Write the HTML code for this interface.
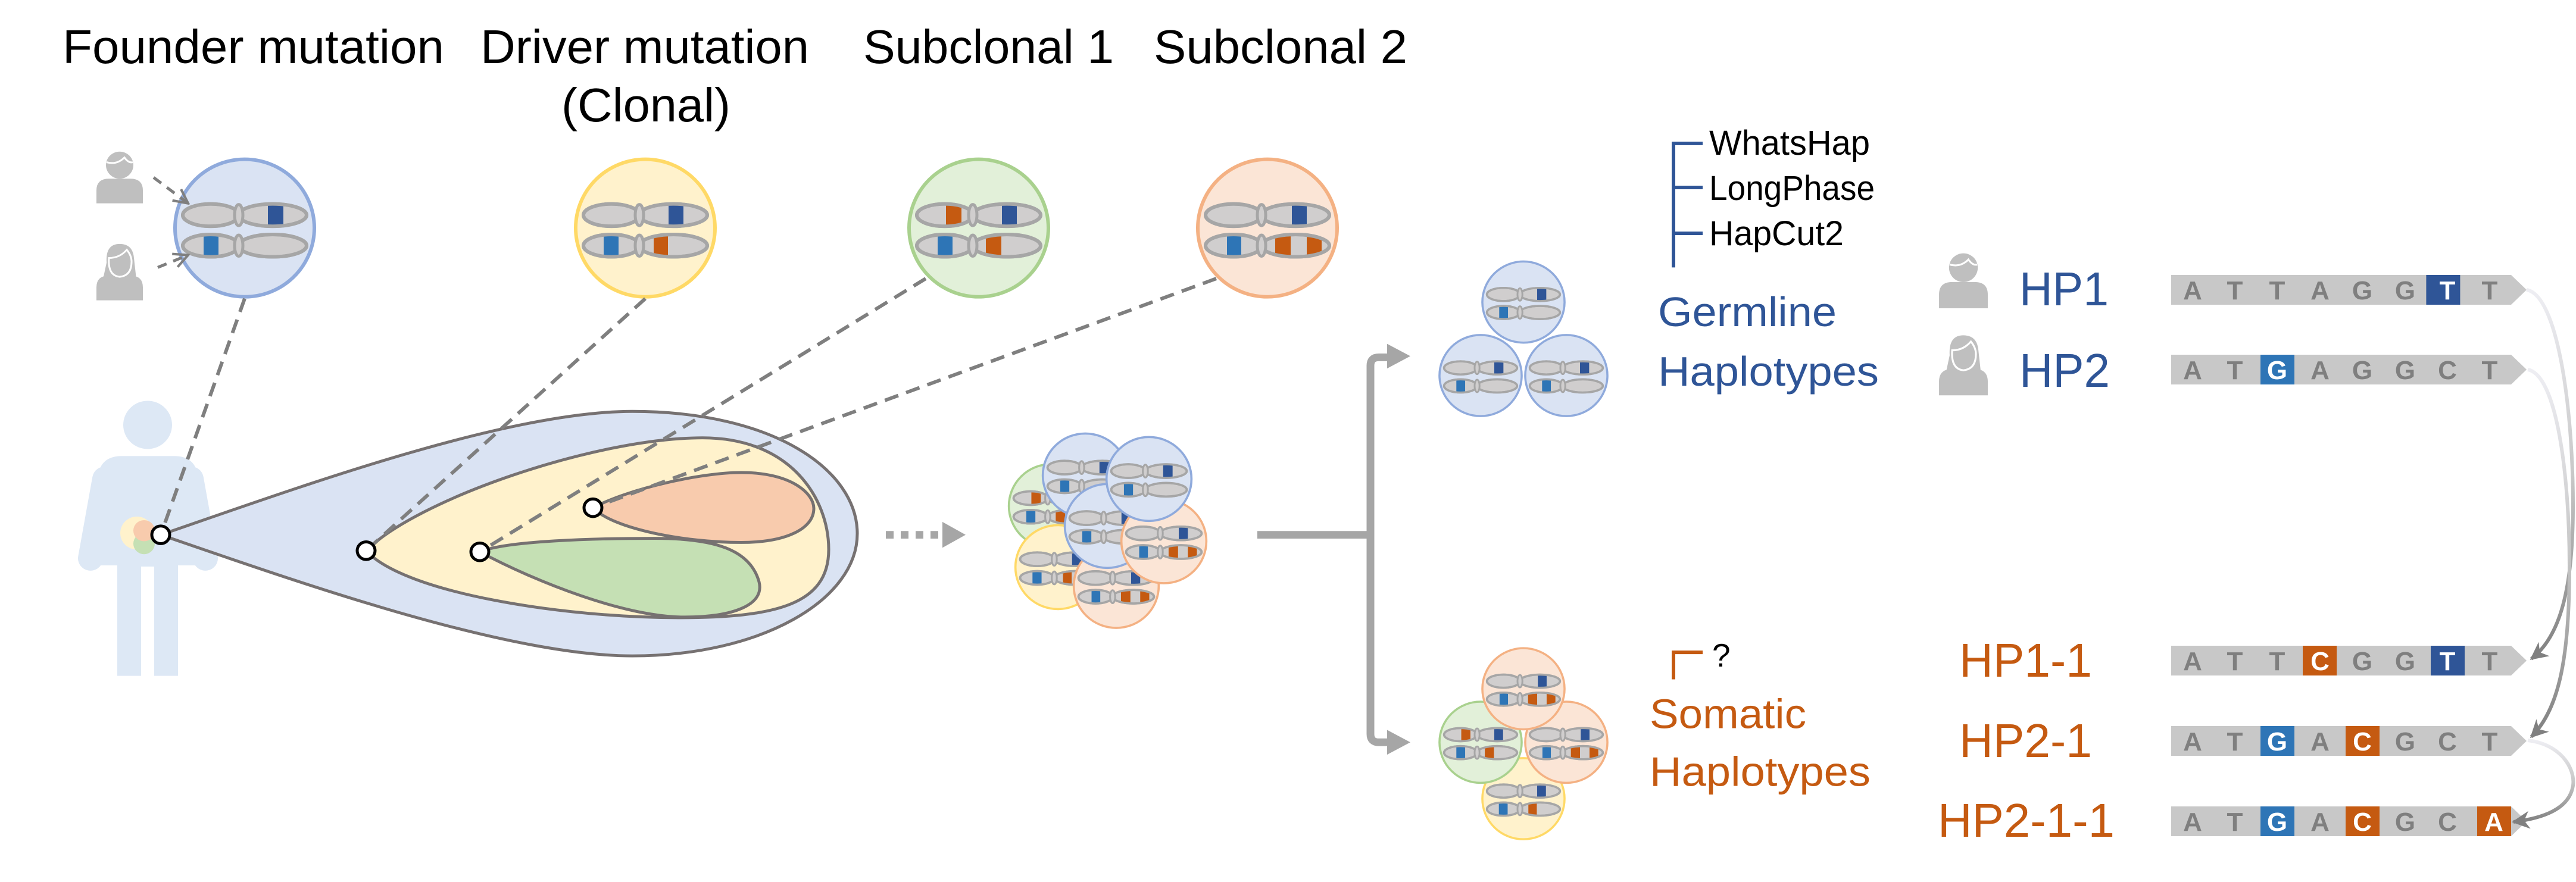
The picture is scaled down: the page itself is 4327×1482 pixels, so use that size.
<!DOCTYPE html>
<html><head><meta charset="utf-8"><style>html,body{margin:0;padding:0;background:#fff}svg{display:block}</style></head>
<body>
<svg xmlns="http://www.w3.org/2000/svg" xmlns:xlink="http://www.w3.org/1999/xlink" width="4327" height="1482" viewBox="0 0 4327 1482">
<defs>
  <clipPath id="r1"><ellipse cx="-57" cy="-22" rx="47" ry="19"/><ellipse cx="47" cy="-22" rx="57" ry="19"/></clipPath>
  <clipPath id="r2"><ellipse cx="-57" cy="30" rx="47" ry="19"/><ellipse cx="47" cy="30" rx="57" ry="19"/></clipPath>
  <g id="chromo">
    <g fill="#d0cece" stroke="#a6a6a6" stroke-width="6">
      <ellipse cx="-57" cy="-22" rx="47" ry="19"/><ellipse cx="47" cy="-22" rx="57" ry="19"/>
      <ellipse cx="-57" cy="30" rx="47" ry="19"/><ellipse cx="47" cy="30" rx="57" ry="19"/>
    </g>
  </g>
  <g id="outl" fill="none" stroke="#a6a6a6" stroke-width="6"><ellipse cx="-57" cy="-22" rx="47" ry="19"/><ellipse cx="47" cy="-22" rx="57" ry="19"/><ellipse cx="-57" cy="30" rx="47" ry="19"/><ellipse cx="47" cy="30" rx="57" ry="19"/></g>
  <g id="ridges" fill="#d0cece" stroke="#a6a6a6" stroke-width="5">
    <ellipse cx="-10" cy="-22" rx="7" ry="18"/><ellipse cx="-10" cy="30" rx="7" ry="18"/>
  </g>
  <g id="cB">
    <use xlink:href="#chromo"/>
    <rect x="39" y="-44" width="26" height="44" fill="#2f5597" clip-path="url(#r1)"/>
    <rect x="-69" y="8" width="25" height="44" fill="#2e75b6" clip-path="url(#r2)"/>
    <use xlink:href="#outl"/><use xlink:href="#ridges"/>
  </g>
  <g id="cY">
    <use xlink:href="#chromo"/>
    <rect x="39" y="-44" width="25" height="44" fill="#2f5597" clip-path="url(#r1)"/>
    <rect x="-70" y="8" width="25" height="44" fill="#2e75b6" clip-path="url(#r2)"/>
    <rect x="14" y="8" width="24" height="44" fill="#c55a11" clip-path="url(#r2)"/>
    <use xlink:href="#outl"/><use xlink:href="#ridges"/>
  </g>
  <g id="cG">
    <use xlink:href="#chromo"/>
    <rect x="-55" y="-44" width="26" height="44" fill="#c55a11" clip-path="url(#r1)"/>
    <rect x="39" y="-44" width="25" height="44" fill="#2f5597" clip-path="url(#r1)"/>
    <rect x="-69" y="8" width="25" height="44" fill="#2e75b6" clip-path="url(#r2)"/>
    <rect x="12" y="8" width="26" height="44" fill="#c55a11" clip-path="url(#r2)"/>
    <use xlink:href="#outl"/><use xlink:href="#ridges"/>
  </g>
  <g id="cO">
    <use xlink:href="#chromo"/>
    <rect x="41" y="-44" width="25" height="44" fill="#2f5597" clip-path="url(#r1)"/>
    <rect x="-68" y="8" width="24" height="44" fill="#2e75b6" clip-path="url(#r2)"/>
    <rect x="13" y="8" width="26" height="44" fill="#c55a11" clip-path="url(#r2)"/>
    <rect x="66" y="8" width="25" height="44" fill="#c55a11" clip-path="url(#r2)"/>
    <use xlink:href="#outl"/><use xlink:href="#ridges"/>
  </g>
  <g id="circB"><circle r="117" fill="#dae3f3" stroke="#8faadc" stroke-width="6"/><use xlink:href="#cB"/></g>
  <g id="circY"><circle r="117" fill="#fff2cc" stroke="#ffd966" stroke-width="6"/><use xlink:href="#cY"/></g>
  <g id="circG"><circle r="117" fill="#e2f0d9" stroke="#a9d18e" stroke-width="6"/><use xlink:href="#cG"/></g>
  <g id="circO"><circle r="117" fill="#fbe5d6" stroke="#f4b183" stroke-width="6"/><use xlink:href="#cO"/></g>
  <g id="male" fill="#bfbfbf">
    <circle cx="0" cy="-25" r="23"/>
    <path d="M-39,40 V18 Q-39,-2 -18,-2 H18 Q39,-2 39,18 V40 Z"/>
    <path d="M-22,-30 Q-5,-25 8,-38 Q15,-28 22,-30" fill="none" stroke="#fff" stroke-width="3"/>
  </g>
  <g id="female" fill="#bfbfbf">
    <path d="M-22,-20 Q-24,-52 0,-52 Q22,-52 24,-28 L28,8 L-28,8 Z"/>
    <path d="M-39,44 V22 Q-39,2 -18,2 H18 Q39,2 39,22 V44 Z"/>
    <path d="M-18,-28 Q0,-28 12,-42 Q20,-32 20,-22 Q20,2 0,4 Q-20,2 -18,-28 Z" fill="#bfbfbf" stroke="#fff" stroke-width="3"/>
  </g>
  <marker id="ah" viewBox="0 0 10 10" refX="9" refY="5" markerWidth="5" markerHeight="5" orient="auto" markerUnits="strokeWidth">
    <path d="M0,0 L10,5 L0,10 L3,5 Z" fill="#808080"/>
  </marker>
  <marker id="oa" viewBox="0 0 10 10" refX="9" refY="5" markerWidth="6" markerHeight="6" orient="auto" markerUnits="strokeWidth">
    <path d="M1,1 L9,5 L1,9" fill="none" stroke="#7f7f7f" stroke-width="1.4"/>
  </marker>
  <linearGradient id="gr1" x1="0" y1="0" x2="0" y2="1"><stop offset="0" stop-color="#eeeef3"/><stop offset="0.5" stop-color="#c8c8c8"/><stop offset="1" stop-color="#808080"/></linearGradient>
</defs>

<g font-family="Liberation Sans, Arial, sans-serif" font-size="80" fill="#000">
  <text x="105" y="106" textLength="641" lengthAdjust="spacingAndGlyphs">Founder mutation</text>
  <text x="807" y="106" textLength="552" lengthAdjust="spacingAndGlyphs">Driver mutation</text>
  <text x="943" y="204" textLength="284" lengthAdjust="spacingAndGlyphs">(Clonal)</text>
  <text x="1450" y="106" textLength="421" lengthAdjust="spacingAndGlyphs">Subclonal 1</text>
  <text x="1938" y="106" textLength="426" lengthAdjust="spacingAndGlyphs">Subclonal 2</text>
</g>

<g transform="scale(1,0.9875)">
<use xlink:href="#circB" x="411" y="388"/>
<use xlink:href="#circY" x="1084" y="388"/>
<use xlink:href="#circG" x="1644" y="388"/>
<use xlink:href="#circO" x="2129" y="388"/>

<use xlink:href="#male" x="201" y="306"/>
<use xlink:href="#female" x="201" y="467"/>
<g stroke="#7f7f7f" stroke-width="5" stroke-dasharray="16 12" fill="none">
  <line x1="258" y1="302" x2="316" y2="346" marker-end="url(#oa)"/>
  <line x1="265" y1="455" x2="316" y2="434" marker-end="url(#oa)"/>
</g>

<!-- person body -->
<g fill="#dde8f5">
  <circle cx="248" cy="723" r="41"/>
  <path d="M164,820 Q164,776 205,776 H292 Q333,776 333,820 V962 H164 Z"/>
  <line x1="176" y1="815" x2="152" y2="950" stroke="#dde8f5" stroke-width="42" stroke-linecap="round"/>
  <line x1="321" y1="815" x2="345" y2="950" stroke="#dde8f5" stroke-width="42" stroke-linecap="round"/>
  <rect x="197" y="940" width="40" height="210"/>
  <rect x="259" y="940" width="40" height="210"/>
  <rect x="197" y="940" width="102" height="24"/>
</g>
<circle cx="230" cy="907" r="28" fill="#fff2cc"/>
<circle cx="242" cy="925" r="18" fill="#c5e0b4"/>
<circle cx="242" cy="903" r="18" fill="#f8cbad"/>

<g stroke="#767171" stroke-width="5">
  <path d="M270,910 C500,830 850,700 1062,700 C1300,700 1440,800 1440,908 C1440,1020 1280,1116 1062,1116 C850,1116 500,990 270,910 Z" fill="#dae3f3"/>
  <path d="M615,937 C700,850 1000,745 1180,745 C1330,745 1392,850 1392,935 C1392,1030 1300,1051 1140,1051 C950,1051 680,1010 615,937 Z" fill="#fff2cc"/>
  <path d="M996,864 C1060,830 1180,804 1245,804 C1330,804 1367,840 1367,865 C1367,900 1320,923 1245,923 C1150,923 1030,900 996,864 Z" fill="#f8cbad"/>
  <path d="M806,939 C850,920 1000,916 1100,916 C1200,916 1260,935 1275,990 C1285,1030 1230,1050 1150,1050 C1050,1050 900,990 806,939 Z" fill="#c5e0b4"/>
</g>
<g stroke="#7f7f7f" stroke-width="6" stroke-dasharray="24 14" fill="none">
  <line x1="411" y1="508" x2="270" y2="910"/>
  <line x1="1084" y1="508" x2="615" y2="937"/>
  <line x1="1555" y1="474" x2="806" y2="939"/>
  <line x1="2043" y1="474" x2="996" y2="864"/>
</g>
<g fill="#fff" stroke="#000" stroke-width="5">
  <circle cx="270" cy="910" r="15"/><circle cx="615" cy="937" r="15"/>
  <circle cx="806" cy="939" r="15"/><circle cx="996" cy="864" r="15"/>
</g>

<line x1="1488" y1="910" x2="1590" y2="910" stroke="#a6a6a6" stroke-width="13" stroke-dasharray="13 12"/>
<polygon points="1583,888 1622,910 1583,932" fill="#a6a6a6"/>

<g>
  <g transform="translate(1766,861) scale(0.61)"><use xlink:href="#circG"/></g>
  <g transform="translate(1777,965) scale(0.61)"><use xlink:href="#circY"/></g>
  <g transform="translate(1823,809) scale(0.61)"><use xlink:href="#circB"/></g>
  <g transform="translate(1875,997) scale(0.61)"><use xlink:href="#circO"/></g>
  <g transform="translate(1860,895) scale(0.61)"><use xlink:href="#circB"/></g>
  <g transform="translate(1955,921) scale(0.61)"><use xlink:href="#circO"/></g>
  <g transform="translate(1930,815) scale(0.61)"><use xlink:href="#circB"/></g>
</g>

<g fill="none" stroke="#a6a6a6" stroke-width="13">
  <path d="M2112,910 H2302"/>
  <path d="M2338,608 H2316 Q2302,608 2302,622 V1249 Q2302,1263 2316,1263 H2338"/>
</g>
<polygon points="2330,585 2369,606 2330,627" fill="#a6a6a6"/>
<polygon points="2330,1242 2369,1263 2330,1284" fill="#a6a6a6"/>

<g transform="translate(2559,514) scale(0.59)"><use xlink:href="#circB"/></g>
<g transform="translate(2487,639) scale(0.59)"><use xlink:href="#circB"/></g>
<g transform="translate(2631,639) scale(0.59)"><use xlink:href="#circB"/></g>

<g transform="translate(2559,1359) scale(0.59)"><use xlink:href="#circY"/></g>
<g transform="translate(2487,1263) scale(0.59)"><use xlink:href="#circG"/></g>
<g transform="translate(2631,1263) scale(0.59)"><use xlink:href="#circO"/></g>
<g transform="translate(2559,1172) scale(0.59)"><use xlink:href="#circO"/></g>

<g stroke="#2f5597" stroke-width="6" fill="none">
  <path d="M2811,455 V244 H2860 M2811,319 H2860 M2811,397 H2860"/>
</g>
<g font-family="Liberation Sans, Arial, sans-serif" font-size="70" fill="#2f5597">
  <text x="2785" y="555" textLength="300" lengthAdjust="spacingAndGlyphs">Germline</text>
  <text x="2785" y="656" textLength="371" lengthAdjust="spacingAndGlyphs">Haplotypes</text>
</g>
<path d="M2811,1156 V1110 H2860" stroke="#c55a11" stroke-width="6" fill="none"/>
<text x="2876" y="1134" font-family="Liberation Sans, Arial, sans-serif" font-size="55" fill="#000">?</text>
<g font-family="Liberation Sans, Arial, sans-serif" font-size="70" fill="#c55a11">
  <text x="2771" y="1239" textLength="263" lengthAdjust="spacingAndGlyphs">Somatic</text>
  <text x="2771" y="1337" textLength="371" lengthAdjust="spacingAndGlyphs">Haplotypes</text>
</g>
</g>

<g font-family="Liberation Sans, Arial, sans-serif" font-size="58" fill="#000">
  <text x="2871" y="260" textLength="270" lengthAdjust="spacingAndGlyphs">WhatsHap</text>
  <text x="2871" y="336" textLength="278" lengthAdjust="spacingAndGlyphs">LongPhase</text>
  <text x="2871" y="412" textLength="226" lengthAdjust="spacingAndGlyphs">HapCut2</text>
</g>

<g transform="translate(3298,476) scale(1.05)"><use xlink:href="#male"/></g>
<g transform="translate(3298,618) scale(1.05)"><use xlink:href="#female"/></g>
<g font-family="Liberation Sans, Arial, sans-serif" font-size="80">
  <text x="3392" y="513" fill="#2f5597" textLength="150" lengthAdjust="spacingAndGlyphs">HP1</text>
  <text x="3392" y="650" fill="#2f5597" textLength="152" lengthAdjust="spacingAndGlyphs">HP2</text>
  <text x="3291" y="1137" fill="#c55a11" textLength="223" lengthAdjust="spacingAndGlyphs">HP1-1</text>
  <text x="3291" y="1272" fill="#c55a11" textLength="223" lengthAdjust="spacingAndGlyphs">HP2-1</text>
  <text x="3255" y="1406" fill="#c55a11" textLength="297" lengthAdjust="spacingAndGlyphs">HP2-1-1</text>
</g>

<g font-family="Liberation Sans, Arial, sans-serif" font-size="44" font-weight="bold" text-anchor="middle">
  <g transform="translate(3647,462)">
    <polygon points="0,0 571,0 597,25 571,50 0,50" fill="#c8c8c8"/>
    <rect x="428.4" y="0" width="57" height="50" fill="#2f5597"/>
    <g fill="#7f7f7f"><text x="36" y="41">A</text><text x="107" y="41">T</text><text x="178" y="41">T</text><text x="250" y="41">A</text><text x="321" y="41">G</text><text x="393" y="41">G</text><text x="464" y="41" fill="#fff">T</text><text x="535" y="41">T</text></g>
  </g>
  <g transform="translate(3647,596)">
    <polygon points="0,0 571,0 597,25 571,50 0,50" fill="#c8c8c8"/>
    <rect x="150" y="0" width="57" height="50" fill="#2e75b6"/>
    <g fill="#7f7f7f"><text x="36" y="41">A</text><text x="107" y="41">T</text><text x="178" y="41" fill="#fff">G</text><text x="250" y="41">A</text><text x="321" y="41">G</text><text x="393" y="41">G</text><text x="464" y="41">C</text><text x="535" y="41">T</text></g>
  </g>
  <g transform="translate(3647,1085)">
    <polygon points="0,0 571,0 597,25 571,50 0,50" fill="#c8c8c8"/>
    <rect x="221" y="0" width="57" height="50" fill="#c55a11"/>
    <rect x="436" y="0" width="57" height="50" fill="#2f5597"/>
    <g fill="#7f7f7f"><text x="36" y="41">A</text><text x="107" y="41">T</text><text x="178" y="41">T</text><text x="250" y="41" fill="#fff">C</text><text x="321" y="41">G</text><text x="393" y="41">G</text><text x="464" y="41" fill="#fff">T</text><text x="535" y="41">T</text></g>
  </g>
  <g transform="translate(3647,1220)">
    <polygon points="0,0 571,0 597,25 571,50 0,50" fill="#c8c8c8"/>
    <rect x="150" y="0" width="57" height="50" fill="#2e75b6"/>
    <rect x="293" y="0" width="57" height="50" fill="#c55a11"/>
    <g fill="#7f7f7f"><text x="36" y="41">A</text><text x="107" y="41">T</text><text x="178" y="41" fill="#fff">G</text><text x="250" y="41">A</text><text x="321" y="41" fill="#fff">C</text><text x="393" y="41">G</text><text x="464" y="41">C</text><text x="535" y="41">T</text></g>
  </g>
  <g transform="translate(3647,1355)">
    <polygon points="0,0 571,0 597,25 571,50 0,50" fill="#c8c8c8"/>
    <rect x="150" y="0" width="57" height="50" fill="#2e75b6"/>
    <rect x="293" y="0" width="57" height="50" fill="#c55a11"/>
    <rect x="514" y="0" width="57" height="50" fill="#c55a11"/>
    <g fill="#7f7f7f"><text x="36" y="41">A</text><text x="107" y="41">T</text><text x="178" y="41" fill="#fff">G</text><text x="250" y="41">A</text><text x="321" y="41" fill="#fff">C</text><text x="393" y="41">G</text><text x="464" y="41">C</text><text x="542" y="41" fill="#fff">A</text></g>
  </g>
</g>

<g fill="none" stroke="url(#gr1)" stroke-width="6">
  <path d="M4244,487 C4295,495 4322,680 4322,850 C4322,990 4300,1070 4252,1107" marker-end="url(#ah)"/>
  <path d="M4246,621 C4295,630 4316,800 4316,950 C4316,1100 4300,1190 4252,1238" marker-end="url(#ah)"/>
  <path d="M4246,1244 C4300,1250 4326,1290 4322,1320 C4316,1360 4270,1375 4222,1381" marker-end="url(#ah)"/>
</g>
</svg>
</body></html>
